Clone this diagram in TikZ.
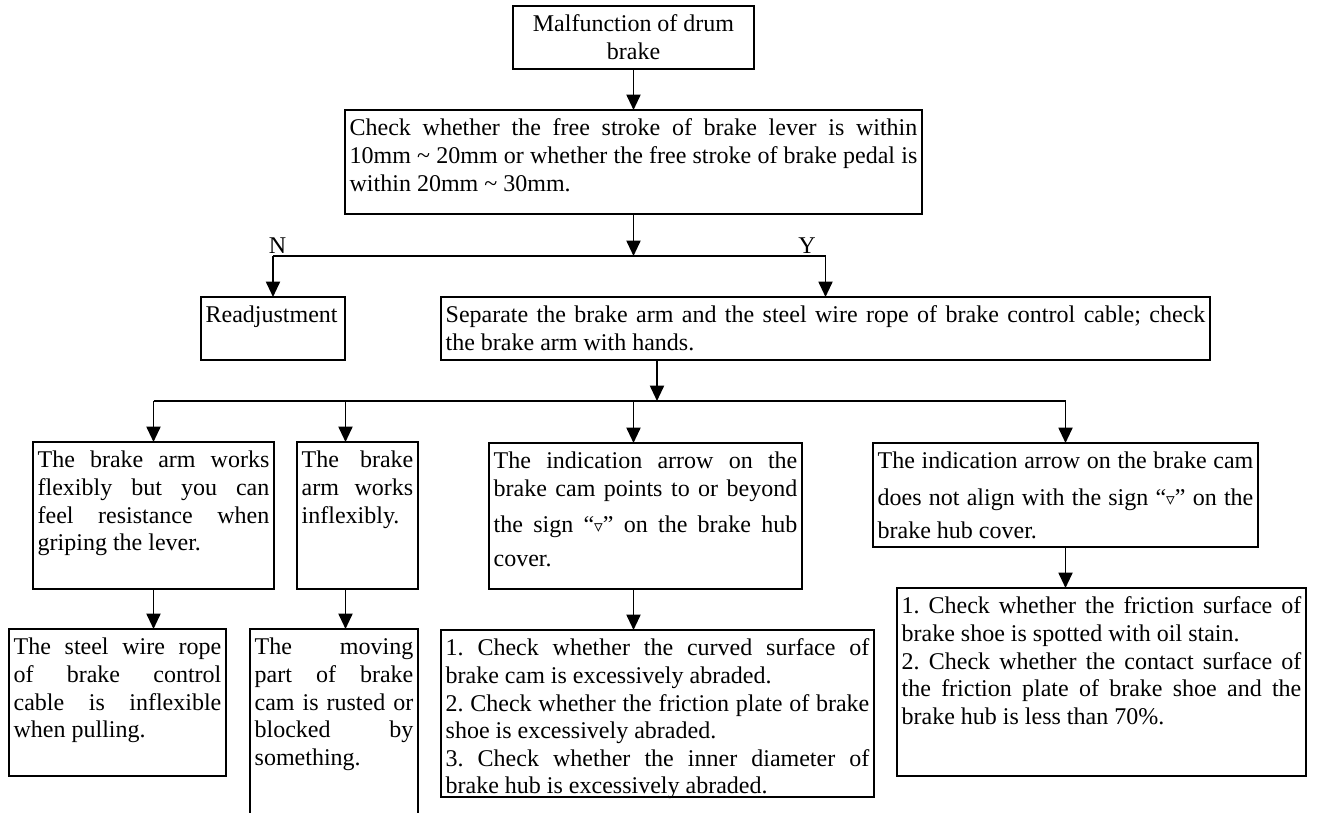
\documentclass[tikz,border=0pt]{standalone}
\usepackage{fontspec}
\setmainfont{Liberation Serif}
\newfontfamily\symf{DejaVu Sans}
\usetikzlibrary{arrows.meta}
\newlength\pxu \setlength\pxu{0.75pt}
\newlength\xpad \setlength\xpad{3.5pt}
\newlength\ypad \setlength\ypad{4.9pt}
\newcommand\bt[3]{\parbox[c][\dimexpr #2\pxu-2\ypad\relax][t]{\dimexpr #1\pxu-2\xpad\relax}{\frenchspacing\strut #3}}
\newcommand\tri{{\symf\fontsize{13}{13}\selectfont ▿}}
\tolerance=10000 \hbadness=10000 \vbadness=10000 \hfuzz=6pt \vfuzz=20pt
\hyphenpenalty=10000 \exhyphenpenalty=10000
\begin{document}
\begin{tikzpicture}[x=0.75pt,y=-0.75pt,
  box/.style={draw, line width=1.4pt, inner xsep=\xpad, inner ysep=\ypad, outer sep=0pt, anchor=north west, font={\fontsize{18}{20.7}\selectfont}},
  conn/.style={line width=1.4pt},
  arr/.style={conn, -{Triangle[length=11.5pt,width=10.5pt]}},
  lbl/.style={font={\fontsize{18}{20.7}\selectfont}, inner sep=0pt, anchor=base}]
\useasboundingbox (0,0) rectangle (1322,813);
\clip (0,0) rectangle (1322,813);

\node[box] (B1) at (513,6) {\bt{241}{63}{\centering Malfunction of drum\\ brake}};
\node[box] (B2) at (345,110) {\bt{577}{104}{Check whether the free stroke of brake lever is within\linebreak 10mm \textasciitilde{} 20mm or whether the free stroke of brake pedal is\linebreak within 20mm \textasciitilde{} 30mm.}};
\node[box] (RA) at (201,297) {\bt{144}{63}{Readjustment}};
\node[box] (SP) at (441,297) {\bt{769}{63}{Separate the brake arm and the steel wire rope of brake control cable; check\linebreak the brake arm with hands.}};

\node[box] (A) at (33,442) {\bt{241}{147}{The brake arm works\linebreak flexibly but you can\linebreak feel resistance when\linebreak griping the lever.}};
\node[box] (B) at (297,442) {\bt{121}{147}{The brake\linebreak arm works\linebreak inflexibly.}};
\node[box] (E) at (489,443) {\bt{313}{146}{The indication arrow on the\linebreak brake cam points to or beyond\vadjust{\vskip6pt}\linebreak the sign “\tri” on the brake hub\vadjust{\vskip4.8pt}\linebreak cover.}};
\node[box] (G) at (873,443) {\bt{385}{104}{The indication arrow on the brake cam\vadjust{\vskip6.5pt}\linebreak does not align with the sign “\tri” on the\vadjust{\vskip4pt}\linebreak brake hub cover.}};

\node[box] (C) at (9,629) {\bt{217}{147}{The steel wire rope\linebreak of brake control\linebreak cable is inflexible\linebreak when pulling.}};
\node[box] (D) at (250,629) {\bt{168}{200}{The moving\linebreak part of brake\linebreak cam is rusted or\linebreak blocked by\linebreak something.}};
\node[box] (F) at (441,630) {\bt{433}{167}{1. Check whether the curved surface of\linebreak brake cam is excessively abraded.\par 2. Check whether the friction plate of brake\linebreak shoe is excessively abraded.\par 3. Check whether the inner diameter of\linebreak brake hub is excessively abraded.}};
\node[box] (H) at (897,588) {\bt{409}{188}{1. Check whether the friction surface of\linebreak brake shoe is spotted with oil stain.\par 2. Check whether the contact surface of\linebreak the friction plate of brake shoe and the\linebreak brake hub is less than 70\%.}};

\coordinate (j1) at (633.5,256);
\coordinate (j2) at (657,401);
\coordinate (d2) at (345.5,401);
\coordinate (d3) at (633.5,401);

\node[lbl] (N) at (277.5,253) {N};
\node[lbl] (Y) at (807,254) {Y};

\draw[arr] (B1.south) -- (B2.north);
\draw[arr] (B2.south) -- (j1);
\draw[conn] (RA.north |- j1) -- (SP.north |- j1);
\draw[arr] (RA.north |- j1) -- (RA.north);
\draw[arr] (SP.north |- j1) -- (SP.north);
\draw[arr] (SP.south -| j2) -- (j2);
\draw[conn] (A.north |- j2) -- (G.north |- j2);
\draw[arr] (A.north |- j2) -- (A.north);
\draw[arr] (d2) -- (d2 |- B.north);
\draw[arr] (d3) -- (d3 |- E.north);
\draw[arr] (G.north |- j2) -- (G.north);
\draw[arr] (A.south) -- (A.south |- C.north);
\draw[arr] (d2 |- B.south) -- (d2 |- D.north);
\draw[arr] (d3 |- E.south) -- (d3 |- F.north);
\draw[arr] (G.south) -- (G.south |- H.north);
\end{tikzpicture}
\end{document}
